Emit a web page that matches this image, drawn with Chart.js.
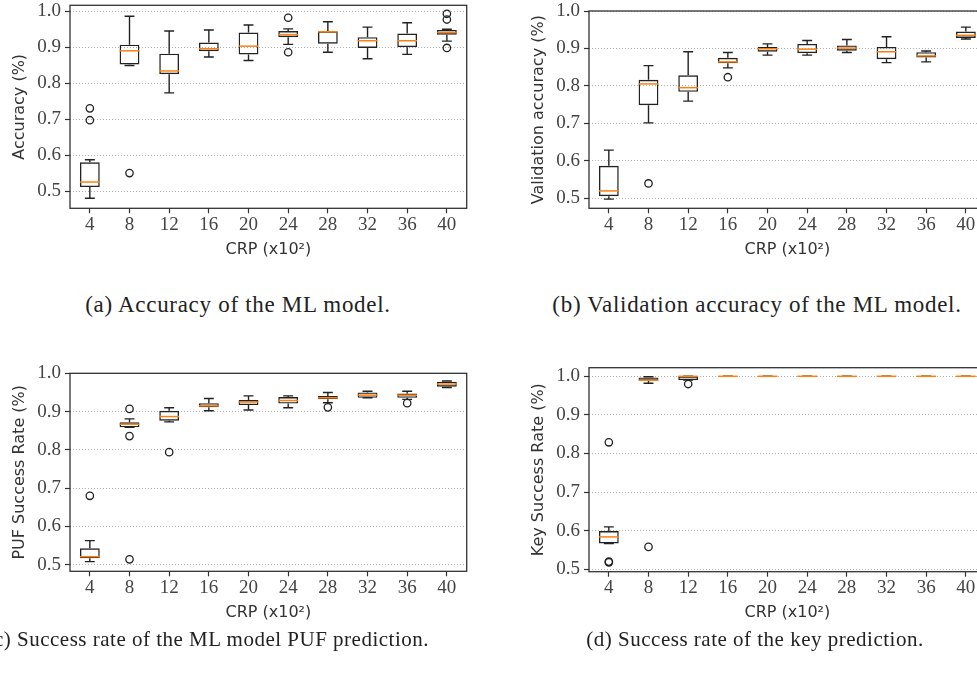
<!DOCTYPE html>
<html>
<head>
<meta charset="utf-8">
<script src="https://cdn.jsdelivr.net/npm/chart.js@4"></script>
<style>
body { margin: 0; width: 977px; height: 686px; overflow: hidden; background: #fff; position: relative; }
canvas { position: absolute; }
.cap { position: absolute; font-family: 'Liberation Serif', serif; font-size: 23px; color: #222; white-space: nowrap; line-height: 23px; letter-spacing: 0.7px; }
.cap.low { font-size: 21px; line-height: 21px; letter-spacing: 0.5px; }
</style>
</head>
<body>
<canvas id="chartA" width="480" height="265" style="left:0px;top:0px"></canvas>
<canvas id="chartB" width="480" height="265" style="left:519px;top:0px"></canvas>
<canvas id="chartC" width="480" height="300" style="left:0px;top:330px"></canvas>
<canvas id="chartD" width="480" height="300" style="left:519px;top:330px"></canvas>
<div class="cap" style="left:-62px;top:293px;width:600px;text-align:center">(a) Accuracy of the ML model.</div>
<div class="cap" style="left:457px;top:293px;width:600px;text-align:center">(b) Validation accuracy of the ML model.</div>
<div class="cap low" style="left:-271px;top:629px;width:700px;text-align:right">(c) Success rate of the ML model PUF prediction.</div>
<div class="cap low" style="left:455px;top:629px;width:600px;text-align:center">(d) Success rate of the key prediction.</div>
<script>
const crpLabels = ["4", "8", "12", "16", "20", "24", "28", "32", "36", "40"];
const yTicks = [0.5, 0.6, 0.7, 0.8, 0.9, 1.0];

// (a) accuracy
const accLow = [0.480, 0.849, 0.773, 0.873, 0.863, 0.908, 0.886, 0.868, 0.880, 0.917];
const accQ1 = [0.511, 0.852, 0.825, 0.889, 0.880, 0.928, 0.910, 0.898, 0.900, 0.935];
const accMed = [0.525, 0.890, 0.834, 0.896, 0.903, 0.935, 0.943, 0.918, 0.918, 0.941];
const accQ3 = [0.580, 0.907, 0.882, 0.913, 0.941, 0.945, 0.944, 0.928, 0.938, 0.948];
const accHigh = [0.587, 0.986, 0.945, 0.948, 0.962, 0.951, 0.971, 0.956, 0.968, 0.950];
const accOut = [[0.730, 0.697], [0.550], [], [], [], [0.982, 0.886], [], [], [], [0.993, 0.977, 0.898]];

// (b) validation accuracy
const valLow = [0.497, 0.701, 0.759, 0.848, 0.882, 0.882, 0.889, 0.862, 0.864, 0.925];
const valQ1 = [0.505, 0.748, 0.784, 0.860, 0.891, 0.887, 0.894, 0.871, 0.876, 0.928];
const valMed = [0.519, 0.805, 0.795, 0.864, 0.899, 0.898, 0.901, 0.891, 0.880, 0.935];
const valQ3 = [0.586, 0.816, 0.828, 0.875, 0.904, 0.912, 0.908, 0.904, 0.890, 0.945];
const valHigh = [0.628, 0.854, 0.891, 0.889, 0.912, 0.921, 0.924, 0.931, 0.893, 0.957];
const valOut = [[], [0.539], [], [0.823], [], [], [], [], [], []];

// (c) PUF success rate
const pufLow = [0.508, 0.859, 0.873, 0.902, 0.904, 0.910, 0.923, 0.936, 0.932, 0.963];
const pufQ1 = [0.517, 0.859, 0.876, 0.911, 0.917, 0.921, 0.932, 0.936, 0.936, 0.965];
const pufMed = [0.521, 0.867, 0.887, 0.915, 0.925, 0.929, 0.936, 0.943, 0.943, 0.972];
const pufQ3 = [0.543, 0.872, 0.902, 0.922, 0.930, 0.938, 0.941, 0.950, 0.947, 0.978];
const pufHigh = [0.563, 0.881, 0.910, 0.934, 0.941, 0.941, 0.950, 0.953, 0.953, 0.980];
const pufOut = [[0.680], [0.907, 0.836, 0.514], [0.794], [], [], [], [0.911], [], [0.922], []];

// (d) key success rate
const keyLow = [0.567, 0.982, 0.990, 1, 1, 1, 1, 1, 1, 1];
const keyQ1 = [0.567, 0.989, 0.990, 1, 1, 1, 1, 1, 1, 1];
const keyMed = [0.584, 0.990, 1.000, 1, 1, 1, 1, 1, 1, 1];
const keyQ3 = [0.599, 0.997, 1.000, 1, 1, 1, 1, 1, 1, 1];
const keyHigh = [0.610, 0.999, 1.000, 1, 1, 1, 1, 1, 1, 1];
const keyOut = [[0.829, 0.520, 0.518], [0.558], [0.980], [], [], [], [], [], [], []];

const lineColor = "#222";
const medianColor = "#ff7f0e";

function boxPlugin(stats) {
    return {
        id: "boxWhiskers",
        afterDatasetsDraw(chart) {
            const ctx = chart.ctx;
            const y = chart.scales.y;
            const meta = chart.getDatasetMeta(0);
            meta.data.forEach((bar, i) => {
                const x = bar.x;
                const half = bar.width / 2;
                const yLow = y.getPixelForValue(stats.low[i]);
                const yHigh = y.getPixelForValue(stats.high[i]);
                const yQ1 = y.getPixelForValue(stats.q1[i]);
                const yQ3 = y.getPixelForValue(stats.q3[i]);
                ctx.save();
                ctx.strokeStyle = lineColor;
                ctx.lineWidth = 1.4;
                ctx.beginPath();
                ctx.moveTo(x, yQ3);
                ctx.lineTo(x, yHigh);
                ctx.moveTo(x, yQ1);
                ctx.lineTo(x, yLow);
                ctx.moveTo(x - half / 2, yHigh);
                ctx.lineTo(x + half / 2, yHigh);
                ctx.moveTo(x - half / 2, yLow);
                ctx.lineTo(x + half / 2, yLow);
                ctx.stroke();
                const yMed = y.getPixelForValue(stats.med[i]);
                ctx.strokeStyle = medianColor;
                ctx.lineWidth = 1.5;
                ctx.beginPath();
                ctx.moveTo(x - half, yMed);
                ctx.lineTo(x + half, yMed);
                ctx.stroke();
                ctx.restore();
            });
        },
        afterDraw(chart) {
            const a = chart.chartArea;
            const ctx = chart.ctx;
            ctx.save();
            ctx.strokeStyle = "#333";
            ctx.lineWidth = 1.3;
            ctx.strokeRect(a.left, a.top, a.right - a.left, a.bottom - a.top);
            ctx.restore();
        },
    };
}

function renderBoxPlot(canvasId, stats, config) {
    const outlierPoints = [];
    stats.outliers.forEach((values, i) => {
        values.forEach((v) => {
            outlierPoints.push({ x: crpLabels[i], y: v });
        });
    });

    const tickFont = { family: "'Liberation Serif', serif", size: 19 };
    const titleFont = { family: "'DejaVu Sans', sans-serif", size: 16 };

    new Chart(document.getElementById(canvasId), {
        type: "bar",
        data: {
            labels: crpLabels,
            datasets: [
                {
                    data: stats.q1.map((q, i) => [q, stats.q3[i]]),
                    backgroundColor: "rgba(0,0,0,0)",
                    borderColor: lineColor,
                    borderWidth: 1.4,
                    borderSkipped: false,
                    barPercentage: 0.5,
                    categoryPercentage: 1.0,
                },
                {
                    type: "line",
                    data: outlierPoints,
                    showLine: false,
                    pointStyle: "circle",
                    pointRadius: 3.7,
                    pointBorderWidth: 1.3,
                    pointBorderColor: lineColor,
                    pointBackgroundColor: "rgba(0,0,0,0)",
                },
            ],
        },
        options: {
            responsive: false,
            animation: false,
            events: [],
            layout: { padding: { top: config.top, left: 0, right: 13.3, bottom: 0 } },
            plugins: { legend: { display: false }, tooltip: { enabled: false } },
            scales: {
                x: {
                    offset: true,
                    afterFit: (s) => {
                        s.height = config.xHeight;
                        s.paddingLeft = 0;
                        s.paddingRight = 0;
                    },
                    ticks: { font: tickFont, color: "#444", padding: 0, autoSkip: false, maxRotation: 0 },
                    grid: { drawOnChartArea: false, offset: false, tickLength: 5, tickColor: "#333", tickWidth: 1.2, color: "#333" },
                    border: { display: false },
                    title: { display: true, text: "CRP (x10²)", font: titleFont, color: "#333", padding: { top: 0, bottom: config.titlePad } },
                },
                y: {
                    min: config.yMin,
                    max: config.yMax,
                    afterBuildTicks: (s) => {
                        s.ticks = yTicks.map((v) => ({ value: v }));
                    },
                    afterFit: (s) => {
                        s.width = 70;
                        s.paddingTop = 0;
                        s.paddingBottom = 0;
                    },
                    ticks: { font: tickFont, color: "#444", padding: 4, callback: (v) => v.toFixed(1) },
                    grid: { color: "#b0b0b0", lineWidth: 1, tickLength: 5, tickColor: "#333", tickWidth: 1.2, tickBorderDash: [] },
                    border: { display: false, dash: [1, 2] },
                    title: { display: true, text: config.yTitle, font: titleFont, color: "#333", padding: { top: 10, bottom: 0 } },
                },
            },
        },
        plugins: [boxPlugin(stats)],
    });
}

renderBoxPlot("chartA",
    { low: accLow, q1: accQ1, med: accMed, q3: accQ3, high: accHigh, outliers: accOut },
    { yTitle: "Accuracy (%)", yMin: 0.452, yMax: 1.0166, top: 4.7, xHeight: 56.7, titlePad: 5.4 });

renderBoxPlot("chartB",
    { low: valLow, q1: valQ1, med: valMed, q3: valQ3, high: valHigh, outliers: valOut },
    { yTitle: "Validation accuracy (%)", yMin: 0.4725, yMax: 1.0, top: 11, xHeight: 56.7, titlePad: 5.4 });

renderBoxPlot("chartC",
    { low: pufLow, q1: pufQ1, med: pufMed, q3: pufQ3, high: pufHigh, outliers: pufOut },
    { yTitle: "PUF Success Rate (%)", yMin: 0.4828, yMax: 1.0, top: 43.3, xHeight: 58.7, titlePad: 7.4 });

renderBoxPlot("chartD",
    { low: keyLow, q1: keyQ1, med: keyMed, q3: keyQ3, high: keyHigh, outliers: keyOut },
    { yTitle: "Key Success Rate (%)", yMin: 0.4938, yMax: 1.0223, top: 37.7, xHeight: 58.3, titlePad: 7.4 });
</script>
</body>
</html>
